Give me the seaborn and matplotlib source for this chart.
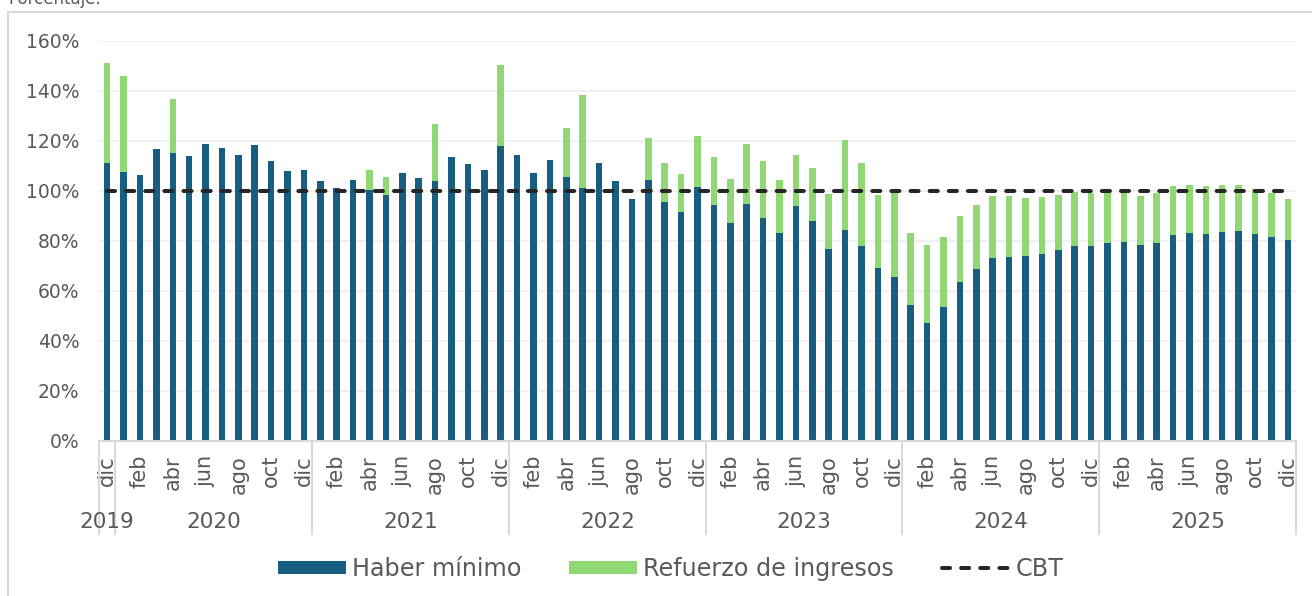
import numpy as np
import pandas as pd
import matplotlib
matplotlib.use("Agg")
import matplotlib.pyplot as plt
import seaborn as sns
from matplotlib.patches import Rectangle
import matplotlib.transforms as mtransforms

# ---------------- data ----------------
years = ["2019", "2020", "2021", "2022", "2023", "2024", "2025"]
month_names = ["ene", "feb", "mar", "abr", "may", "jun", "jul", "ago", "sep", "oct", "nov", "dic"]
months = ["dic"] + month_names * 6

haber_minimo = [
    111.3,
    107.6, 106.5, 116.8, 115.2, 114.0, 118.8, 117.1, 114.5, 118.5, 112.1, 108.1, 108.4,
    104.1, 101.3, 104.3, 100.5, 98.4, 107.1, 105.3, 104.0, 113.5, 110.7, 108.3, 117.9,
    114.3, 107.1, 112.4, 105.6, 101.1, 111.2, 104.1, 96.7, 104.4, 95.7, 91.7, 101.5,
    94.5, 87.3, 94.7, 89.1, 83.1, 94.1, 88.1, 76.9, 84.5, 78.1, 69.1, 65.7,
    54.5, 47.2, 53.6, 63.7, 68.9, 73.2, 73.7, 74.0, 74.9, 76.5, 77.9, 78.0,
    79.2, 79.6, 78.3, 79.3, 82.4, 83.2, 82.9, 83.6, 84.1, 82.8, 81.6, 80.4,
]
refuerzo_ingresos = [
    39.9,
    38.3, 0, 0, 21.7, 0, 0, 0, 0, 0, 0, 0, 0,
    0, 0, 0, 7.8, 7.3, 0, 0, 22.8, 0, 0, 0, 32.4,
    0, 0, 0, 19.6, 37.2, 0, 0, 0, 16.9, 15.5, 15.0, 20.4,
    19.1, 17.5, 24.2, 22.8, 21.3, 20.2, 21.0, 21.8, 35.9, 33.1, 29.3, 33.8,
    28.6, 31.2, 28.0, 26.3, 25.4, 24.7, 24.2, 23.1, 22.6, 21.9, 21.6, 21.2,
    21.1, 20.4, 19.7, 19.9, 19.6, 19.3, 19.0, 18.7, 18.3, 17.9, 17.7, 16.5,
]
cbt = [100.0] * len(haber_minimo)
y_ticks = [0, 20, 40, 60, 80, 100, 120, 140, 160]

# ---------------- styling ----------------
BLUE = "#175E80"
GREEN = "#90D874"
GRAY_TXT = "#595959"
GRID = "#EFEFEF"
AXLINE = "#D9D9D9"

sns.set_theme(style="white")
plt.rcParams["font.family"] = ["DejaVu Sans"]

n = len(haber_minimo)
pos = np.arange(n)
df = pd.DataFrame({
    "pos": pos,
    "haber": haber_minimo,
    "total": np.array(haber_minimo) + np.array(refuerzo_ingresos),
    "cbt": cbt,
})

W, H = 1312, 596
fig = plt.figure(figsize=(W / 100, H / 100), dpi=100)
ax = fig.add_axes([99 / W, 1 - 441 / H, (1296 - 99) / W, 400 / H])

sns.barplot(data=df, x="pos", y="total", color=GREEN, width=0.4, ax=ax,
            label="Refuerzo de ingresos", saturation=1, linewidth=0)
sns.barplot(data=df, x="pos", y="haber", color=BLUE, width=0.4, ax=ax,
            label="Haber mínimo", saturation=1, linewidth=0)
sns.lineplot(data=df, x="pos", y="cbt", ax=ax, color="#262626", linewidth=2.9,
             label="CBT", dashes=False)
line = ax.get_lines()[-1]
line.set_dashes((2.0, 2.75))
line.set_dash_capstyle("round")

ax.set_xlim(-0.5, n - 0.5)
ax.set_ylim(0, 160)
ax.set_yticks(y_ticks)
ax.set_yticklabels([f"{v}%" for v in y_ticks], color=GRAY_TXT, fontsize=13.5)
ax.yaxis.grid(True, color=GRID, linewidth=1.3)
ax.set_axisbelow(True)
ax.tick_params(axis="y", length=0, pad=14)

ax.set_xticks(pos)
ax.set_xticklabels([m if i % 2 == 0 else "" for i, m in enumerate(months)],
                   rotation=90, color=GRAY_TXT, fontsize=15, va="top", ha="center")
ax.tick_params(axis="x", length=0, pad=10)
ax.set_xlabel("")
ax.set_ylabel("")

for s in ["left", "right", "top"]:
    ax.spines[s].set_visible(False)
ax.spines["bottom"].set_color(AXLINE)
ax.spines["bottom"].set_linewidth(1.5)

# year groups
trans = mtransforms.blended_transform_factory(ax.transData, ax.transAxes)
bounds = [-0.5, 0.5] + [0.5 + 12 * k for k in range(1, 7)]
for b in bounds:
    ax.plot([b, b], [0, -0.2325], transform=trans, color=AXLINE, lw=1.5, clip_on=False)
for k, yr in enumerate(years):
    a, b = bounds[k], bounds[k + 1]
    ax.text((a + b) / 2, -0.2025, yr, transform=trans, ha="center", va="center",
            color=GRAY_TXT, fontsize=15.5)

# legend
handles, labels = ax.get_legend_handles_labels()
order = [labels.index("Haber mínimo"), labels.index("Refuerzo de ingresos"), labels.index("CBT")]
if ax.get_legend():
    ax.get_legend().remove()
leg = fig.legend([handles[i] for i in order], [labels[i] for i in order],
                 loc="center", bbox_to_anchor=(671 / W, 1 - 569 / H), ncol=3,
                 frameon=False, fontsize=17.2, handlelength=2.85, handleheight=0.5,
                 handletextpad=0.25, columnspacing=2.0, labelcolor=GRAY_TXT)

# outer frame and clipped subtitle
fig.patches.append(Rectangle((8 / W, -0.1), 1.2, 1.1 - 12 / H, transform=fig.transFigure,
                             fill=False, edgecolor=AXLINE, linewidth=1.5))
fig.text(8 / W, 1 - 4 / H, "Porcentaje.", color=GRAY_TXT, fontsize=12, va="baseline", ha="left")

fig.savefig("out.png", dpi=100)
